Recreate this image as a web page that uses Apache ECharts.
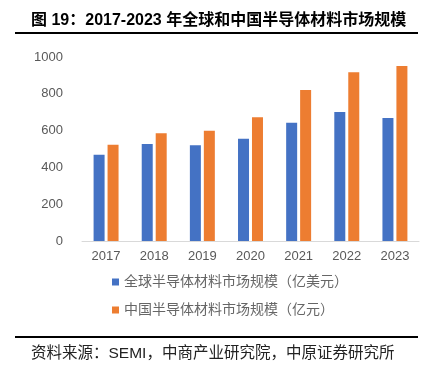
<!DOCTYPE html>
<html>
<head>
<meta charset="utf-8">
<script src="https://cdn.jsdelivr.net/npm/echarts@6/dist/echarts.min.js"></script>
<style>
  html,body{margin:0;padding:0;background:#fff;}
  #chart{width:435px;height:365px;}
</style>
</head>
<body>
<div id="chart"></div>
<script>
// 年份
var years = ['2017', '2018', '2019', '2020', '2021', '2022', '2023'];
// 全球半导体材料市场规模（亿美元）
var globalVals = [469, 527, 520, 556, 643, 701, 668];
// 中国半导体材料市场规模（亿元）
var chinaVals = [523, 585, 599, 672, 821, 917, 951];
var globalName = '全球半导体材料市场规模（亿美元）';
var chinaName = '中国半导体材料市场规模（亿元）';

var cjk = '"Liberation Sans", "Noto Sans CJK SC", sans-serif';

var myChart = echarts.init(document.getElementById('chart'));
var option = {
    backgroundColor: '#fff',
    animation: false,
    title: [{
        text: '图 19：2017-2023 年全球和中国半导体材料市场规模',
        left: 26,
        top: 8,
        textStyle: { fontFamily: cjk, fontSize: 16, fontWeight: 'bold', color: '#000' }
    }, {
        text: '资料来源：SEMI，中商产业研究院，中原证券研究所',
        left: 26,
        top: 341,
        textStyle: { fontFamily: cjk, fontSize: 15.5, fontWeight: 'normal', color: '#222' }
    }],
    graphic: [
        { type: 'rect', shape: { x: 15, y: 32, width: 403, height: 2 }, style: { fill: '#000' } },
        { type: 'rect', shape: { x: 15, y: 336, width: 403, height: 2 }, style: { fill: '#000' } }
    ],
    legend: {
        orient: 'vertical',
        left: 107,
        top: 270,
        itemWidth: 7,
        itemHeight: 7,
        itemGap: 14,
        icon: 'rect',
        textStyle: { fontFamily: cjk, fontSize: 14, color: '#666' },
        data: [globalName, chinaName]
    },
    grid: { left: 82, right: 16, top: 57, bottom: 124 },
    xAxis: {
        type: 'category',
        data: years,
        axisLine: { lineStyle: { color: '#d9d9d9', width: 1 } },
        axisTick: { show: false },
        axisLabel: { color: '#595959', fontSize: 13, fontFamily: cjk, margin: 9 }
    },
    yAxis: {
        type: 'value',
        min: 0,
        max: 1000,
        interval: 200,
        splitLine: { show: false },
        axisLine: { show: false },
        axisTick: { show: false },
        axisLabel: {
            color: '#595959', fontSize: 13, fontFamily: cjk, margin: 19,
            formatter: function (v) { return String(v); }
        }
    },
    series: [{
        name: globalName,
        type: 'bar',
        data: globalVals,
        barWidth: 11,
        barGap: '27%',
        itemStyle: { color: '#4472c4' }
    }, {
        name: chinaName,
        type: 'bar',
        data: chinaVals,
        barWidth: 11,
        itemStyle: { color: '#ed7d31' }
    }]
};
myChart.setOption(option);
</script>
</body>
</html>
